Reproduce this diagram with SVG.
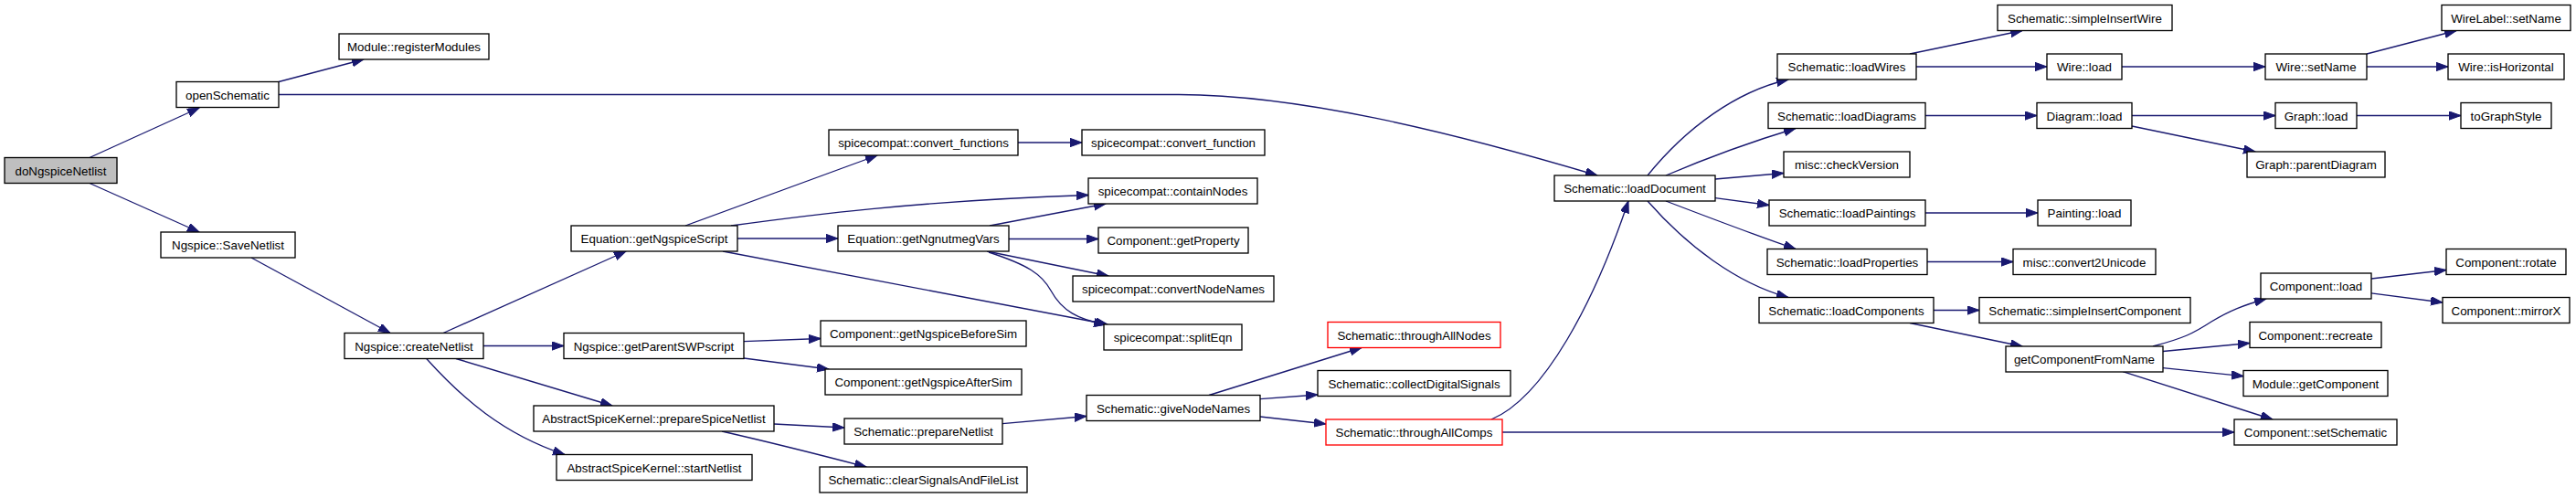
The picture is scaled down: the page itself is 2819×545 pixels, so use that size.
<svg xmlns="http://www.w3.org/2000/svg" width="2819" height="545" viewBox="0 0 2819 545">
<style>
.node rect{fill:#ffffff;stroke:#000000;stroke-width:1.33}
.node.root rect{fill:#bfbfbf}
.node.red rect{stroke:#ff0000}
.node text{font-family:"Liberation Sans",Arial,Helvetica,sans-serif;font-size:13.33px;fill:#000000;text-anchor:middle}
.edges path{fill:none;stroke:#191970;stroke-width:1.33}
</style>
<defs>
<marker id="arr" markerUnits="userSpaceOnUse" markerWidth="14" markerHeight="10" refX="13" refY="4.67" orient="auto">
<path d="M0,0 L13,4.67 L0,9.33 z" fill="#191970" stroke="#191970" stroke-width="1"/>
</marker>
</defs>
<rect x="0" y="0" width="2819" height="545" fill="#ffffff"/>
<g class="edges" marker-end="url(#arr)">
<path d="M98,172.5 L218,118" marker-end="url(#arr)"/>
<path d="M98,200.5 L218,254" marker-end="url(#arr)"/>
<path d="M305,89.5 L398,65" marker-end="url(#arr)"/>
<path d="M305,103.5 L1290,103.5 C1420,104 1580,142 1748,192" marker-end="url(#arr)"/>
<path d="M275,282 L427,364.5" marker-end="url(#arr)"/>
<path d="M485,364.5 L685,275" marker-end="url(#arr)"/>
<path d="M529,378.5 L617,378.5" marker-end="url(#arr)"/>
<path d="M499,392.5 L670,444" marker-end="url(#arr)"/>
<path d="M466.7,392.5 C505,435 550,475 618,497.5" marker-end="url(#arr)"/>
<path d="M750,247 L960,170" marker-end="url(#arr)"/>
<path d="M800,247 C880,236 1000,220 1191,213.5" marker-end="url(#arr)"/>
<path d="M807,261 L917,261" marker-end="url(#arr)"/>
<path d="M791,275 L1212,355" marker-end="url(#arr)"/>
<path d="M1114,156 L1184,156" marker-end="url(#arr)"/>
<path d="M1083,247 L1210,223" marker-end="url(#arr)"/>
<path d="M1104,261.5 L1202,261.5" marker-end="url(#arr)"/>
<path d="M1080,275 L1213,302" marker-end="url(#arr)"/>
<path d="M1082,276 C1125,290 1140,300 1150,318 C1162,340 1180,350 1210,355" marker-end="url(#arr)"/>
<path d="M814,373.7 L898,370.5" marker-end="url(#arr)"/>
<path d="M814,392 L907,404" marker-end="url(#arr)"/>
<path d="M847,464 L924,468" marker-end="url(#arr)"/>
<path d="M790,472 C825,480 860,488 948,511" marker-end="url(#arr)"/>
<path d="M1097,463.7 L1189,455.5" marker-end="url(#arr)"/>
<path d="M1323,432.5 L1490,380.5" marker-end="url(#arr)"/>
<path d="M1379,436.6 L1442,432" marker-end="url(#arr)"/>
<path d="M1379,456 L1451,464" marker-end="url(#arr)"/>
<path d="M1632,459 C1690,435 1745,330 1782,220" marker-end="url(#arr)"/>
<path d="M1644,473 L2445,473" marker-end="url(#arr)"/>
<path d="M1803,192 C1845,140 1900,100 1957,87" marker-end="url(#arr)"/>
<path d="M1823,192 C1870,172 1920,154 1965,140.5" marker-end="url(#arr)"/>
<path d="M1877,196 L1952,189.5" marker-end="url(#arr)"/>
<path d="M1877,216.7 L1936,224.5" marker-end="url(#arr)"/>
<path d="M1823,220 C1870,238 1920,257 1965,272.5" marker-end="url(#arr)"/>
<path d="M1803,220 C1845,268 1900,310 1957,325.5" marker-end="url(#arr)"/>
<path d="M2090,59 L2213,33.5" marker-end="url(#arr)"/>
<path d="M2097,73 L2240,73" marker-end="url(#arr)"/>
<path d="M2322,73 L2479,73" marker-end="url(#arr)"/>
<path d="M2590,59 L2688,33.5" marker-end="url(#arr)"/>
<path d="M2590,73 L2679,73" marker-end="url(#arr)"/>
<path d="M2107,126.5 L2229,126.5" marker-end="url(#arr)"/>
<path d="M2333,126.5 L2490,126.5" marker-end="url(#arr)"/>
<path d="M2333,138 L2468,166" marker-end="url(#arr)"/>
<path d="M2579,126.5 L2693,126.5" marker-end="url(#arr)"/>
<path d="M2107,233 L2230,233" marker-end="url(#arr)"/>
<path d="M2109,286.5 L2203,286.5" marker-end="url(#arr)"/>
<path d="M2116,339.5 L2166,339.5" marker-end="url(#arr)"/>
<path d="M2090,353.5 L2213,379" marker-end="url(#arr)"/>
<path d="M2356,379 C2390,370 2400,365 2420,352 C2440,340 2455,334 2480,327" marker-end="url(#arr)"/>
<path d="M2367,384.5 L2462,375.5" marker-end="url(#arr)"/>
<path d="M2367,402.7 L2455,411.7" marker-end="url(#arr)"/>
<path d="M2323,406.7 L2487,459" marker-end="url(#arr)"/>
<path d="M2595,305 L2677,295.5" marker-end="url(#arr)"/>
<path d="M2595,320.8 L2673,331" marker-end="url(#arr)"/>
</g>
<g id="n_doNgspiceNetlist" class="node root"><rect x="5" y="172.5" width="123" height="28"/><text x="66.5" y="191.5">doNgspiceNetlist</text></g>
<g id="n_openSchematic" class="node"><rect x="193" y="89.5" width="112" height="28"/><text x="249" y="108.5">openSchematic</text></g>
<g id="n_Module_registerModules" class="node"><rect x="371" y="37" width="164" height="28"/><text x="453" y="56">Module::registerModules</text></g>
<g id="n_Ngspice_SaveNetlist" class="node"><rect x="176" y="254" width="147" height="28"/><text x="249.5" y="273">Ngspice::SaveNetlist</text></g>
<g id="n_Ngspice_createNetlist" class="node"><rect x="377" y="364.5" width="152" height="28"/><text x="453" y="383.5">Ngspice::createNetlist</text></g>
<g id="n_Equation_getNgspiceScript" class="node"><rect x="625" y="247" width="182" height="28"/><text x="716" y="266">Equation::getNgspiceScript</text></g>
<g id="n_Ngspice_getParentSWPscript" class="node"><rect x="617" y="364.5" width="197" height="28"/><text x="715.5" y="383.5">Ngspice::getParentSWPscript</text></g>
<g id="n_AbstractSpiceKernel_prepareSpiceNetlist" class="node"><rect x="584" y="444" width="263" height="28"/><text x="715.5" y="463">AbstractSpiceKernel::prepareSpiceNetlist</text></g>
<g id="n_AbstractSpiceKernel_startNetlist" class="node"><rect x="609" y="497.5" width="214" height="28"/><text x="716" y="516.5">AbstractSpiceKernel::startNetlist</text></g>
<g id="n_spicecompat_convert_functions" class="node"><rect x="907" y="142" width="207" height="28"/><text x="1010.5" y="161">spicecompat::convert_functions</text></g>
<g id="n_Equation_getNgnutmegVars" class="node"><rect x="917" y="247" width="187" height="28"/><text x="1010.5" y="266">Equation::getNgnutmegVars</text></g>
<g id="n_Component_getNgspiceBeforeSim" class="node"><rect x="898" y="351" width="225" height="28"/><text x="1010.5" y="370">Component::getNgspiceBeforeSim</text></g>
<g id="n_Component_getNgspiceAfterSim" class="node"><rect x="903" y="404" width="215" height="28"/><text x="1010.5" y="423">Component::getNgspiceAfterSim</text></g>
<g id="n_Schematic_prepareNetlist" class="node"><rect x="924" y="458" width="173" height="28"/><text x="1010.5" y="477">Schematic::prepareNetlist</text></g>
<g id="n_Schematic_clearSignalsAndFileList" class="node"><rect x="897" y="511" width="227" height="28"/><text x="1010.5" y="530">Schematic::clearSignalsAndFileList</text></g>
<g id="n_spicecompat_convert_function" class="node"><rect x="1184" y="142" width="200" height="28"/><text x="1284" y="161">spicecompat::convert_function</text></g>
<g id="n_spicecompat_containNodes" class="node"><rect x="1191" y="195" width="185" height="28"/><text x="1283.5" y="214">spicecompat::containNodes</text></g>
<g id="n_Component_getProperty" class="node"><rect x="1202" y="249" width="164" height="28"/><text x="1284" y="268">Component::getProperty</text></g>
<g id="n_spicecompat_convertNodeNames" class="node"><rect x="1174" y="302" width="220" height="28"/><text x="1284" y="321">spicecompat::convertNodeNames</text></g>
<g id="n_spicecompat_splitEqn" class="node"><rect x="1208" y="355" width="151" height="28"/><text x="1283.5" y="374">spicecompat::splitEqn</text></g>
<g id="n_Schematic_giveNodeNames" class="node"><rect x="1189" y="432.5" width="190" height="28"/><text x="1284" y="451.5">Schematic::giveNodeNames</text></g>
<g id="n_Schematic_loadDocument" class="node"><rect x="1701" y="192" width="176" height="28"/><text x="1789" y="211">Schematic::loadDocument</text></g>
<g id="n_Schematic_throughAllNodes" class="node red"><rect x="1453" y="352.5" width="189" height="28"/><text x="1547.5" y="371.5">Schematic::throughAllNodes</text></g>
<g id="n_Schematic_collectDigitalSignals" class="node"><rect x="1442" y="405.5" width="211" height="28"/><text x="1547.5" y="424.5">Schematic::collectDigitalSignals</text></g>
<g id="n_Schematic_throughAllComps" class="node red"><rect x="1451" y="459" width="193" height="28"/><text x="1547.5" y="478">Schematic::throughAllComps</text></g>
<g id="n_Schematic_simpleInsertWire" class="node"><rect x="2186" y="5.5" width="191" height="28"/><text x="2281.5" y="24.5">Schematic::simpleInsertWire</text></g>
<g id="n_Schematic_loadWires" class="node"><rect x="1945" y="59" width="152" height="28"/><text x="2021" y="78">Schematic::loadWires</text></g>
<g id="n_Wire_load" class="node"><rect x="2240" y="59" width="82" height="28"/><text x="2281" y="78">Wire::load</text></g>
<g id="n_Schematic_loadDiagrams" class="node"><rect x="1935" y="112.5" width="172" height="28"/><text x="2021" y="131.5">Schematic::loadDiagrams</text></g>
<g id="n_Diagram_load" class="node"><rect x="2229" y="112.5" width="104" height="28"/><text x="2281" y="131.5">Diagram::load</text></g>
<g id="n_misc_checkVersion" class="node"><rect x="1952" y="166" width="138" height="28"/><text x="2021" y="185">misc::checkVersion</text></g>
<g id="n_Schematic_loadPaintings" class="node"><rect x="1936" y="219" width="171" height="28"/><text x="2021.5" y="238">Schematic::loadPaintings</text></g>
<g id="n_Painting_load" class="node"><rect x="2230" y="219" width="102" height="28"/><text x="2281" y="238">Painting::load</text></g>
<g id="n_Schematic_loadProperties" class="node"><rect x="1934" y="272.5" width="175" height="28"/><text x="2021.5" y="291.5">Schematic::loadProperties</text></g>
<g id="n_misc_convert2Unicode" class="node"><rect x="2203" y="272.5" width="156" height="28"/><text x="2281" y="291.5">misc::convert2Unicode</text></g>
<g id="n_Schematic_loadComponents" class="node"><rect x="1925" y="325.5" width="191" height="28"/><text x="2020.5" y="344.5">Schematic::loadComponents</text></g>
<g id="n_Schematic_simpleInsertComponent" class="node"><rect x="2166" y="325.5" width="231" height="28"/><text x="2281.5" y="344.5">Schematic::simpleInsertComponent</text></g>
<g id="n_getComponentFromName" class="node"><rect x="2195" y="379" width="172" height="28"/><text x="2281" y="398">getComponentFromName</text></g>
<g id="n_WireLabel_setName" class="node"><rect x="2672" y="5.5" width="141" height="28"/><text x="2742.5" y="24.5">WireLabel::setName</text></g>
<g id="n_Wire_setName" class="node"><rect x="2479" y="59" width="111" height="28"/><text x="2534.5" y="78">Wire::setName</text></g>
<g id="n_Wire_isHorizontal" class="node"><rect x="2679" y="59" width="127" height="28"/><text x="2742.5" y="78">Wire::isHorizontal</text></g>
<g id="n_Graph_load" class="node"><rect x="2490" y="112.5" width="89" height="28"/><text x="2534.5" y="131.5">Graph::load</text></g>
<g id="n_toGraphStyle" class="node"><rect x="2693" y="112.5" width="99" height="28"/><text x="2742.5" y="131.5">toGraphStyle</text></g>
<g id="n_Graph_parentDiagram" class="node"><rect x="2459" y="166" width="151" height="28"/><text x="2534.5" y="185">Graph::parentDiagram</text></g>
<g id="n_Component_rotate" class="node"><rect x="2677" y="272.5" width="131" height="28"/><text x="2742.5" y="291.5">Component::rotate</text></g>
<g id="n_Component_load" class="node"><rect x="2474" y="299" width="121" height="28"/><text x="2534.5" y="318">Component::load</text></g>
<g id="n_Component_mirrorX" class="node"><rect x="2673" y="325.5" width="139" height="28"/><text x="2742.5" y="344.5">Component::mirrorX</text></g>
<g id="n_Component_recreate" class="node"><rect x="2462" y="352.5" width="144" height="28"/><text x="2534" y="371.5">Component::recreate</text></g>
<g id="n_Module_getComponent" class="node"><rect x="2455" y="405.5" width="158" height="28"/><text x="2534" y="424.5">Module::getComponent</text></g>
<g id="n_Component_setSchematic" class="node"><rect x="2445" y="459" width="178" height="28"/><text x="2534" y="478">Component::setSchematic</text></g>
</svg>
